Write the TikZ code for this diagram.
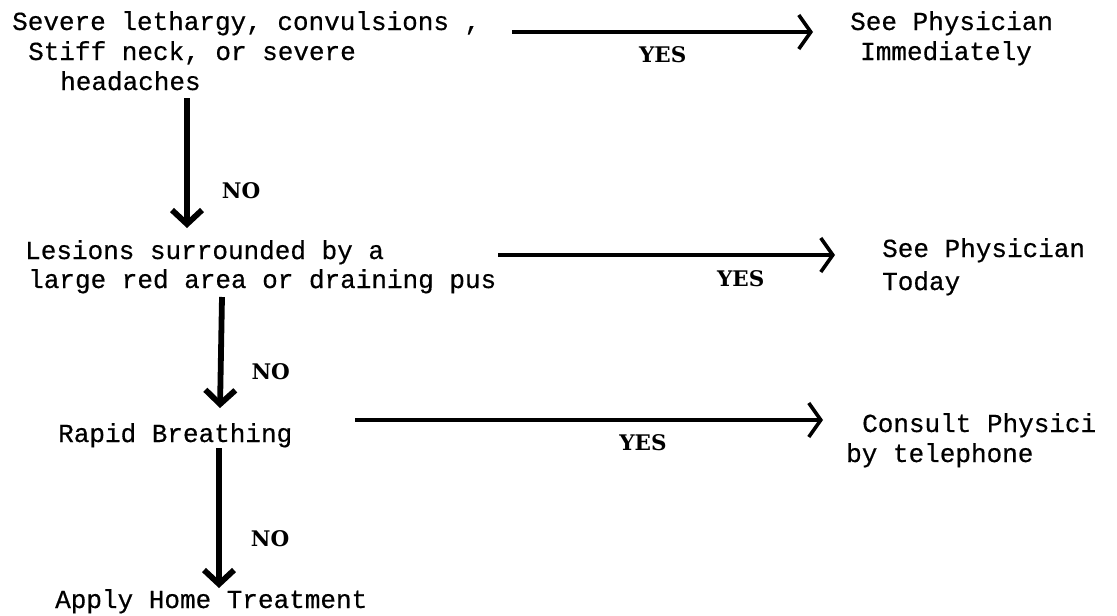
\documentclass[tikz,border=0pt]{standalone}
\usepackage{fontspec}
\usetikzlibrary{arrows.meta}
\newfontfamily\typefont[FakeBold=0.5]{Liberation Mono}
\newfontfamily\answfont{DejaVu Serif}

\begin{document}
\begin{tikzpicture}[x=1pt, y=-1pt,
 txt/.style={anchor=base west, inner sep=0, font=\typefont\fontsize{26}{30}\selectfont},
 ans/.style={inner sep=0, font=\answfont\bfseries\fontsize{21.5}{25}\selectfont},
 hflow/.style={line width=3.6pt, -{Straight Barb[length=12pt, width=34pt]}},
 vflow/.style={line width=5.8pt, -{Straight Barb[length=14pt, width=30pt]}}]
\useasboundingbox (0,0) rectangle (1117,616);
\node[txt] (sev1) at (12,30) {Severe lethargy, convulsions ,};
\node[txt] (sev2) at (28,60) {Stiff neck, or severe};
\node[txt] (sev3) at (60,90) {headaches};
\node[txt] (see1) at (850,30) {See Physician};
\node[txt] (imm) at (860,60) {Immediately};
\node[txt] (les1) at (25,259) {Lesions surrounded by a};
\node[txt] (les2) at (28,288) {large red area or draining pus};
\node[txt] (see2) at (882,257) {See Physician};
\node[txt] (today) at (882,290) {Today};
\node[txt] (rap) at (58,442) {Rapid Breathing};
\node[txt] (cons) at (862,432) {Consult Physici};
\node[txt] (tel) at (846,462) {by telephone};
\node[txt] (home) at (55,608) {Apply Home Treatment};
\draw[hflow] ([shift={(32,2)}]sev1.base east) -- node[ans, pos=.5, below=13pt] {YES} ([shift={(-37,2)}]see1.base west);
\draw[hflow] ([shift={(114,-4)}]les1.base east) -- node[ans, pos=.72, below=14pt] {YES} ([shift={(-47,-2)}]see2.base west);
\draw[hflow] ([shift={(63,-22)}]rap.base east) -- node[ans, pos=.615, below=13pt] {YES} ([shift={(-39,-12)}]cons.base west);
\draw[vflow] ([shift={(127,8)}]sev3.base west) -- node[ans, pos=.71, right=32pt] {NO} ([shift={(162,-31)}]les1.base west);
\draw[vflow] ([shift={(194,9)}]les2.base west) -- node[ans, pos=.67, right=28pt] {NO} ([shift={(162,-34)}]rap.base west);
\draw[vflow] ([shift={(161,6)}]rap.base west) -- node[ans, pos=.65, right=29pt] {NO} ([shift={(164,-20)}]home.base west);
\end{tikzpicture}
\end{document}
